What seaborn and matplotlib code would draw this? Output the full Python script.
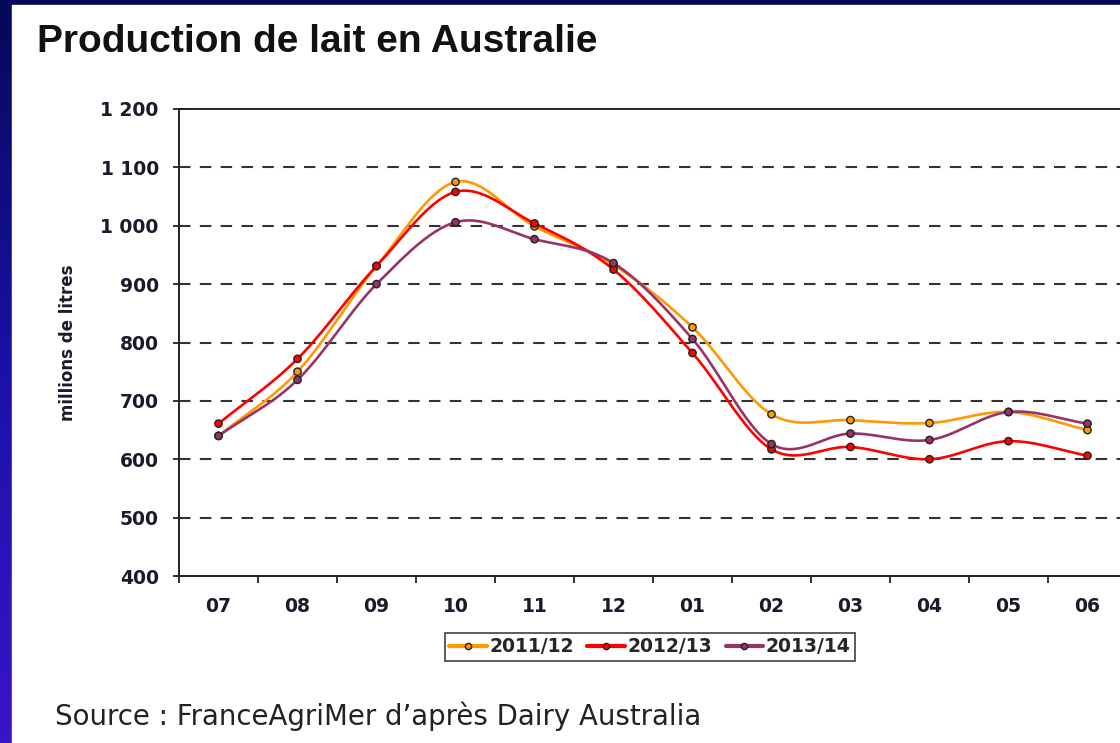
import numpy as np
import pandas as pd
import seaborn as sns
import matplotlib.pyplot as plt
from matplotlib.lines import Line2D
from matplotlib.patches import Rectangle
from matplotlib.colors import LinearSegmentedColormap
from matplotlib.ticker import FuncFormatter

# values (millions de litres)
months = ["07", "08", "09", "10", "11", "12", "01", "02", "03", "04", "05", "06"]
prod_2011_12 = [640, 750, 931, 1075, 999, 933, 826, 677, 667, 662, 681, 650]
prod_2012_13 = [661, 772, 931, 1058, 1004, 925, 782, 617, 621, 600, 631, 606]
prod_2013_14 = [640, 736, 900, 1006, 977, 936, 806, 626, 644, 633, 681, 661]
seasons = ["2011/12", "2012/13", "2013/14"]
colors = ["#FF9900", "#FF0000", "#993366"]


def smooth(y, n=30):
    # Catmull-Rom curve through the points, like a smoothed spreadsheet line
    y = np.asarray(y, float)
    p = np.concatenate([[2 * y[0] - y[1]], y, [2 * y[-1] - y[-2]]])
    xs, ys = [], []
    for i in range(len(y) - 1):
        t = np.linspace(0, 1, n, endpoint=False)
        p0, p1, p2, p3 = p[i], p[i + 1], p[i + 2], p[i + 3]
        seg = 0.5 * ((2 * p1) + (-p0 + p2) * t + (2 * p0 - 5 * p1 + 4 * p2 - p3) * t ** 2
                     + (-p0 + 3 * p1 - 3 * p2 + p3) * t ** 3)
        xs.append(i + t)
        ys.append(seg)
    xs.append([len(y) - 1])
    ys.append([y[-1]])
    return np.concatenate(xs), np.concatenate(ys)


series = [prod_2011_12, prod_2012_13, prod_2013_14]
curve_rows, point_rows = [], []
for s, vals in zip(seasons, series):
    cx, cy = smooth(vals)
    curve_rows.append(pd.DataFrame({"x": cx, "value": cy, "season": s}))
    point_rows.append(pd.DataFrame({"x": np.arange(len(months)), "value": vals, "season": s}))
curves = pd.concat(curve_rows, ignore_index=True)
points = pd.concat(point_rows, ignore_index=True)

sns.set_theme(style="white")
plt.rcParams["font.family"] = ["Liberation Sans", "DejaVu Sans"]
wide = ["DejaVu Sans"]

fig = plt.figure(figsize=(11.2, 7.43), dpi=100)

# blue slide border with gradient
bg = fig.add_axes([0, 0, 1, 1], zorder=-10)
grad = np.linspace(0, 1, 256).reshape(-1, 1)
cmap = LinearSegmentedColormap.from_list("slide", ["#05085A", "#1A12A8", "#3A14C8"])
bg.imshow(grad, aspect="auto", cmap=cmap, extent=[0, 1, 0, 1], origin="upper")
bg.add_patch(Rectangle((12 / 1120, 0), 1, 1 - 5 / 743, color="white"))
bg.set_xlim(0, 1)
bg.set_ylim(0, 1)
bg.axis("off")

ax = fig.add_axes([179 / 1120, 1 - 576 / 743, 948 / 1120, (576 - 109) / 743])
ax.set_facecolor("white")

palette = dict(zip(seasons, colors))
sns.lineplot(data=curves, x="x", y="value", hue="season", palette=palette,
             linewidth=1.9, legend=False, ax=ax, zorder=3)
sns.scatterplot(data=points, x="x", y="value", hue="season", palette=palette,
                s=28, edgecolor="#222222", linewidth=1.0, legend=False, ax=ax, zorder=4)

ax.set_ylim(400, 1200)
ax.set_xlim(-0.5, 11.5)
ax.set_yticks(np.arange(400, 1201, 100))
ax.yaxis.set_major_formatter(FuncFormatter(lambda v, p: f"{int(v):,}".replace(",", " ")))
for yv in range(500, 1200, 100):
    ax.axhline(yv, color="#333333", lw=1.5, linestyle=(0, (5.5, 4.5)), zorder=1)

ax.set_xticks(np.arange(len(months)))
ax.set_xticklabels(months)
ax.set_xticks(np.arange(-0.5, 12, 1), minor=True)
ax.tick_params(axis="x", which="major", length=0, pad=15, labelcolor="#1a1a2a")
ax.tick_params(axis="x", which="minor", length=5, width=1.3, direction="out", color="#222222", bottom=True)
ax.tick_params(axis="y", which="major", length=9, width=1.3, direction="inout", pad=10,
               labelcolor="#1a1a2a", color="#222222", left=True)
for lab in ax.get_xticklabels() + ax.get_yticklabels():
    lab.set_fontweight("bold")
    lab.set_family(wide)
    lab.set_fontsize(13.5)

for side in ["left", "bottom", "top"]:
    ax.spines[side].set_visible(True)
    ax.spines[side].set_color("#222222")
    ax.spines[side].set_linewidth(1.4)
ax.spines["right"].set_visible(False)

ax.set_xlabel("")
ax.set_ylabel("millions de litres", fontsize=12, fontweight="bold", color="#1a1a2a", family=wide)
ax.yaxis.set_label_coords((77 - 179) / 948, 0.5)

handles = [Line2D([0], [0], color=c, lw=3, marker="o", markersize=4.5,
                  markerfacecolor=c, markeredgecolor="#222222") for c in colors]
leg = fig.legend(handles, seasons, loc="center", bbox_to_anchor=(650 / 1120, 1 - 647 / 743),
                 ncol=3, frameon=True, fancybox=False, edgecolor="#222222",
                 handlelength=2.0, handletextpad=0.15, columnspacing=0.7, borderpad=0.25,
                 prop={"weight": "bold", "size": 13.5, "family": wide})
leg.get_frame().set_linewidth(1.3)

fig.text(37 / 1120, 1 - 42 / 743, "Production de lait en Australie", fontsize=28,
         fontweight="bold", color="#111111", va="center", ha="left")
fig.text(55 / 1120, 1 - 716 / 743, "Source : FranceAgriMer d\u2019après Dairy Australia",
         fontsize=19.9, color="#222222", va="center", ha="left", family=wide)

fig.savefig("out.png", dpi=100)
